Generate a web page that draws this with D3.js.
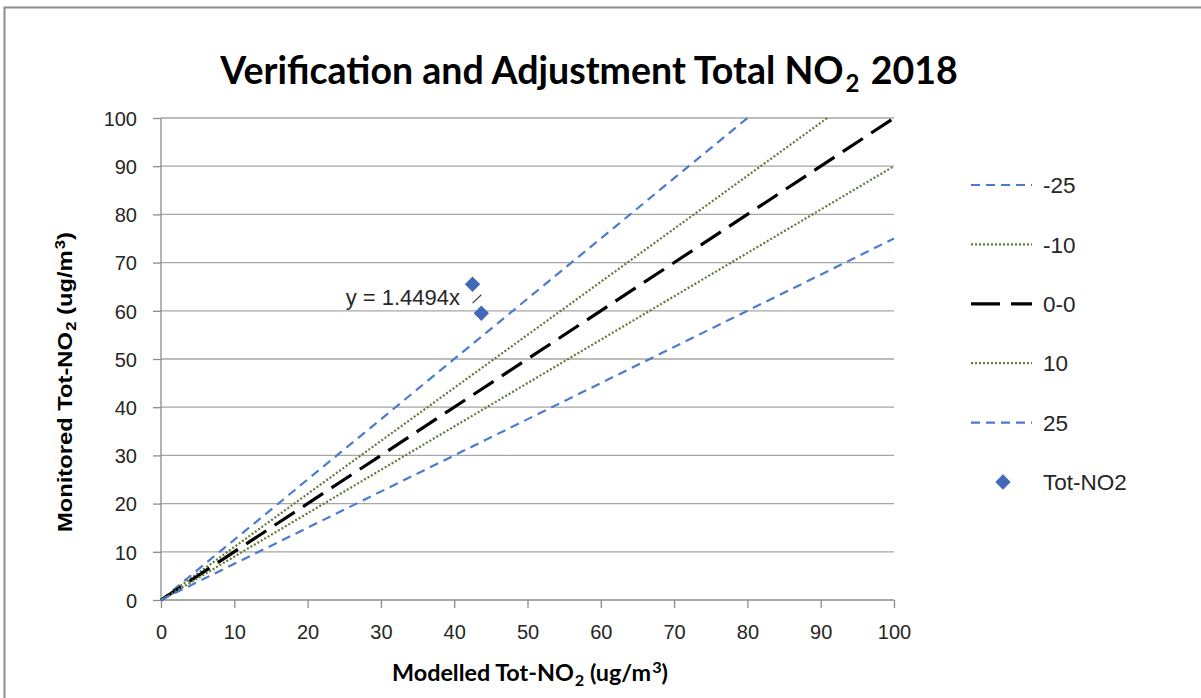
<!DOCTYPE html>
<html>
<head>
<meta charset="utf-8">
<script src="https://cdn.jsdelivr.net/npm/d3@7"></script>
<style>
  html, body { margin: 0; padding: 0; background: #fff; }
  svg { display: block; }
</style>
</head>
<body>
<svg id="chart" width="1201" height="698"></svg>
<script>
// Axis ticks
const xTicks = [0, 10, 20, 30, 40, 50, 60, 70, 80, 90, 100];
const yTicks = [0, 10, 20, 30, 40, 50, 60, 70, 80, 90, 100];

// Reference lines (modelled, monitored) end points
const lineMinus25 = [[0, 0], [80, 100]];
const lineMinus10 = [[0, 0], [90.9, 100]];
const lineZero    = [[0, 0], [100, 100]];
const linePlus10  = [[0, 0], [100, 90]];
const linePlus25  = [[0, 0], [100, 75]];

// Monitored vs modelled Tot-NO2 sites
const modelled  = [42.5, 43.7];
const monitored = [65.5, 59.5];

// Linear trendline through origin
const trendSlope = 1.4494;
const trendRange = [42.5, 43.7];

const svg = d3.select("#chart");
const W = 1201, H = 698;
const plot = { left: 161, right: 894, top: 118, bottom: 600 };

const x = d3.scaleLinear().domain([0, 100]).range([plot.left, plot.right]);
const y = d3.scaleLinear().domain([0, 100]).range([plot.bottom, plot.top]);

const calibri = "Lato, 'Open Sans', sans-serif";
const arial = "'Liberation Sans', Arial, sans-serif";

// Outer chart frame
svg.append("path")
  .attr("d", `M4.5,${H} L4.5,7.5 L${W},7.5`)
  .attr("fill", "none").attr("stroke", "#8c8c8c").attr("stroke-width", 2);

// Title with subscript
const title = svg.append("text")
  .attr("x", 589).attr("y", 84)
  .attr("text-anchor", "middle")
  .attr("font-family", calibri).attr("font-weight", "bold")
  .attr("font-size", 37.5).attr("fill", "#000");
title.append("tspan").text("Verification and Adjustment Total NO");
title.append("tspan").attr("font-size", 24).attr("dx", 2).attr("dy", 8).text("2");
title.append("tspan").attr("dx", 2).attr("dy", -8).text(" 2018");

// Horizontal gridlines
svg.append("g")
  .selectAll("line")
  .data(yTicks.filter(d => d > 0))
  .join("line")
  .attr("x1", plot.left).attr("x2", plot.right)
  .attr("y1", d => y(d)).attr("y2", d => y(d))
  .attr("stroke", "#a6a6a6").attr("stroke-width", 1.3);

// Axes
const yAxis = d3.axisLeft(y).tickValues(yTicks).tickSize(8).tickPadding(16);
const xAxis = d3.axisBottom(x).tickValues(xTicks).tickSize(8).tickPadding(17);

const gy = svg.append("g").attr("transform", `translate(${plot.left},0)`).call(yAxis);
const gx = svg.append("g").attr("transform", `translate(0,${plot.bottom})`).call(xAxis);

[gx, gy].forEach(g => {
  g.select(".domain").attr("stroke", "#8c8c8c").attr("stroke-width", 1.3);
  g.selectAll(".tick line").attr("stroke", "#8c8c8c").attr("stroke-width", 1.3);
  g.selectAll(".tick text")
    .attr("font-family", arial).attr("font-size", 20).attr("fill", "#262626");
});
gx.select(".domain").attr("d", `M${plot.left},0H${plot.right}`);
gy.select(".domain").attr("d", `M0,${plot.bottom}V${plot.top}`);
gy.selectAll(".tick text").attr("dy", "0.36em");

// Reference lines
const lineGen = d3.line().x(d => x(d[0])).y(d => y(d[1]));
const series = [
  { name: "-25", data: lineMinus25, color: "#4a7bd0", width: 2.2, dash: "9,6" },
  { name: "-10", data: lineMinus10, color: "#5f7a3a", width: 2.2, dash: "2,2" },
  { name: "0-0", data: lineZero,    color: "#000000", width: 3.2, dash: "24,10" },
  { name: "10",  data: linePlus10,  color: "#5f7a3a", width: 2.2, dash: "2,2" },
  { name: "25",  data: linePlus25,  color: "#4a7bd0", width: 2.2, dash: "9,6" }
];

svg.append("g").selectAll("path")
  .data(series)
  .join("path")
  .attr("d", d => lineGen(d.data))
  .attr("fill", "none")
  .attr("stroke", d => d.color)
  .attr("stroke-width", d => d.width)
  .attr("stroke-dasharray", d => d.dash);

// Trendline segment
svg.append("path")
  .attr("d", lineGen(trendRange.map(v => [v, v * trendSlope])))
  .attr("fill", "none").attr("stroke", "#404040").attr("stroke-width", 1.2);

// Data points (diamonds)
const diamond = d3.symbol().type(d3.symbolDiamond2).size(150);
svg.append("g").selectAll("path")
  .data(modelled.map((m, i) => [m, monitored[i]]))
  .join("path")
  .attr("d", diamond)
  .attr("transform", d => `translate(${x(d[0])},${y(d[1])})`)
  .attr("fill", "#4169b8");

// Trendline equation
svg.append("text")
  .attr("x", 460).attr("y", 305)
  .attr("text-anchor", "end")
  .attr("font-family", arial).attr("font-size", 22).attr("fill", "#262626")
  .text(`y = ${trendSlope}x`);

// Axis titles
const xt = svg.append("text")
  .attr("x", 530).attr("y", 681)
  .attr("text-anchor", "middle")
  .attr("textLength", 276).attr("lengthAdjust", "spacingAndGlyphs")
  .attr("font-family", calibri).attr("font-weight", "bold")
  .attr("font-size", 23).attr("fill", "#000");
xt.append("tspan").text("Modelled Tot-NO");
xt.append("tspan").attr("font-size", 16).attr("dx", 1).attr("dy", 5).text("2");
xt.append("tspan").attr("dy", -5).text(" (ug/m");
xt.append("tspan").attr("font-size", 16).attr("dx", 1).attr("dy", -8).text("3");
xt.append("tspan").attr("dy", 8).text(")");

const yt = svg.append("text")
  .attr("transform", "translate(72,382) rotate(-90)")
  .attr("text-anchor", "middle")
  .attr("textLength", 300).attr("lengthAdjust", "spacingAndGlyphs")
  .attr("font-family", arial).attr("font-weight", "bold")
  .attr("font-size", 20).attr("fill", "#000");
yt.append("tspan").text("Monitored Tot-NO");
yt.append("tspan").attr("font-size", 14).attr("dx", 1).attr("dy", 4).text("2");
yt.append("tspan").attr("dy", -4).text(" (ug/m");
yt.append("tspan").attr("font-size", 14).attr("dx", 1).attr("dy", -7).text("3");
yt.append("tspan").attr("dy", 7).text(")");

// Legend
const legend = svg.append("g");
const rowY = d3.scalePoint()
  .domain(series.map(s => s.name).concat(["Tot-NO2"]))
  .range([185, 482]);

const rows = legend.selectAll("g")
  .data(series)
  .join("g")
  .attr("transform", d => `translate(0,${rowY(d.name)})`);
rows.append("line")
  .attr("x1", 971).attr("x2", 1032)
  .attr("stroke", d => d.color)
  .attr("stroke-width", d => d.width)
  .attr("stroke-dasharray", d => d.name === "0-0" ? "29,11" : d.dash);
rows.append("text")
  .attr("x", 1043).attr("dy", "0.36em")
  .attr("font-family", arial).attr("font-size", 22.5).attr("fill", "#262626")
  .text(d => d.name);

const ptRow = legend.append("g").attr("transform", `translate(0,${rowY("Tot-NO2")})`);
ptRow.append("path").attr("d", diamond).attr("transform", "translate(1003,0)").attr("fill", "#4169b8");
ptRow.append("text")
  .attr("x", 1043).attr("dy", "0.36em")
  .attr("font-family", arial).attr("font-size", 22.5).attr("fill", "#262626")
  .text("Tot-NO2");
</script>
</body>
</html>
